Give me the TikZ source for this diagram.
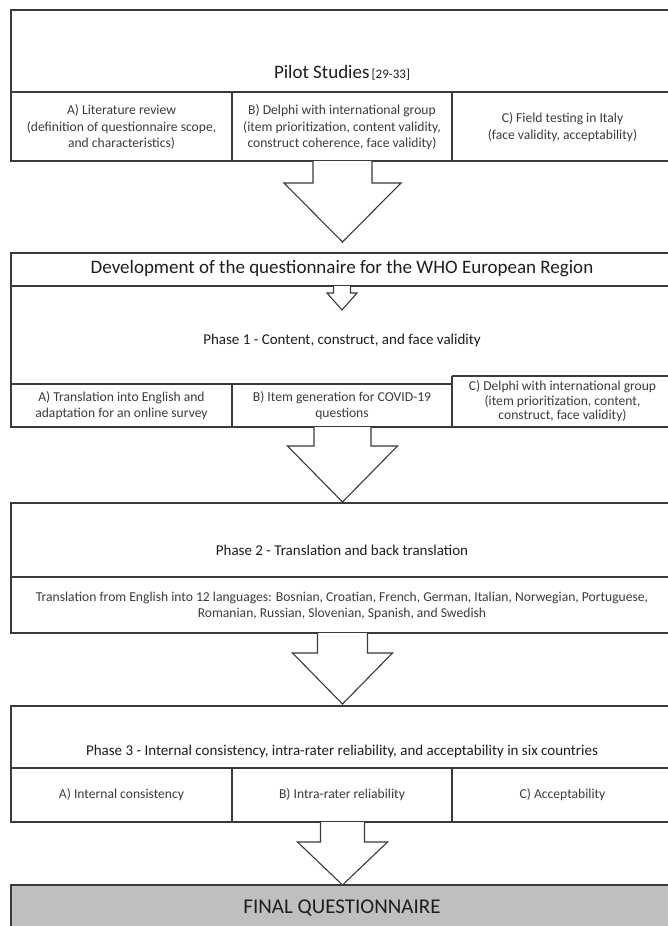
\documentclass[tikz,border=0pt]{standalone}
\usepackage{fontspec}
\setmainfont{Carlito}
\definecolor{ln}{HTML}{3A3A3A}
\definecolor{tx}{HTML}{1E1E1E}
\definecolor{stx}{HTML}{3C3C3C}
\definecolor{fin}{HTML}{BFBFBF}
\tikzset{
  frame/.style={draw=ln, line width=1.2pt},
  arr/.style={draw=ln, line width=1.1pt, fill=white, line join=miter},
  ttl/.style={text=tx, inner sep=0pt, font=\fontsize{19}{21}\selectfont},
  phs/.style={text=tx, inner sep=0pt, font=\fontsize{15}{17}\selectfont},
  sub/.style={text=stx, inner sep=0pt, align=center, font=\fontsize{13.6}{16}\selectfont},
}
\newcommand{\blockarr}[7]{% name, cx, shaft half, top, shaft end, wing half, tip
  \draw[arr] (#2-#3,#4) -- (#2-#3,#5) -- (#2-#6,#5) -- (#2,#7) coordinate (#1) -- (#2+#6,#5) -- (#2+#3,#5) -- (#2+#3,#4);
}
\begin{document}
\begin{tikzpicture}[x=1pt,y=-1pt]
\useasboundingbox (0,0) rectangle (667,926);
\fill[white] (0,0) rectangle (667,926);

% ---------- Pilot studies ----------
\draw[frame] (11,10) rectangle (673,161);
\draw[frame] (11,92) -- (673,92);
\draw[frame] (232,92) -- (232,161);
\draw[frame] (452,92) -- (452,161);
\node[ttl] (pilot) at (342,73) {Pilot Studies{\fontsize{13}{15}\selectfont\,[29-33]}};
\node[sub] (pa) at (121.5,127) {A) Literature review\\[1pt](definition of questionnaire scope,\\and characteristics)};
\node[sub] (pb) at (342,127) {B) Delphi with international group\\[1pt](item prioritization, content validity,\\construct coherence, face validity)};
\node[sub] (pc) at (562.5,127) {C) Field testing in Italy\\[1pt](face validity, acceptability)};

\blockarr{t1}{342.5}{29.5}{161}{183}{58.5}{242}

% ---------- Development / Phase 1 ----------
\draw[frame] (11,253) rectangle (673,427);
\draw[frame] (11,286) -- (673,286);
\draw[frame] (11,384) -- (452,384);
\draw[frame] (452,376) -- (673,376);
\draw[frame] (232,384) -- (232,427);
\draw[frame] (452,376) -- (452,427);
\node[ttl] (dev) at (342,269) {Development of the questionnaire for the WHO European Region};
\blockarr{t0}{342}{8.5}{286}{293}{15}{310}
\node[phs] (ph1) at (342,340) {Phase 1 - Content, construct, and face validity};
\node[sub] (p1a) at (121.5,406) {A) Translation into English and\\adaptation for an online survey};
\node[sub] (p1b) at (342,406) {B) Item generation for COVID-19\\questions};
\node[sub, font=\fontsize{13.6}{14.5}\selectfont] (p1c) at (562.5,401.5) {C) Delphi with international group\\(item prioritization, content,\\construct, face validity)};

\blockarr{t2}{342.5}{28.5}{427}{446}{55}{502}

% ---------- Phase 2 ----------
\draw[frame] (11,503) rectangle (673,633);
\draw[frame] (11,577) -- (673,577);
\node[phs] (ph2) at (342,550) {Phase 2 - Translation and back translation};
\node[sub] (p2a) at (342,605.5) {Translation from English into 12 languages: Bosnian, Croatian, French, German, Italian, Norwegian, Portuguese,\\Romanian, Russian, Slovenian, Spanish, and Swedish};

\blockarr{t3}{342.5}{25}{633}{653}{50}{704}

% ---------- Phase 3 ----------
\draw[frame] (11,706) rectangle (673,822);
\draw[frame] (11,768) -- (673,768);
\draw[frame] (232,768) -- (232,822);
\draw[frame] (452,768) -- (452,822);
\node[phs] (ph3) at (342,751) {Phase 3 - Internal consistency, intra-rater reliability, and acceptability in six countries};
\node[sub] (p3a) at (121.5,795) {A) Internal consistency};
\node[sub] (p3b) at (342,795) {B) Intra-rater reliability};
\node[sub] (p3c) at (562.5,795) {C) Acceptability};

\blockarr{t4}{342.5}{22}{822}{842}{45}{885}

% ---------- Final ----------
\draw[frame, fill=fin] (11,885) rectangle (673,940);
\node[ttl, font=\fontsize{21}{23}\selectfont] (final) at (342,908) {FINAL QUESTIONNAIRE};
\end{tikzpicture}
\end{document}
